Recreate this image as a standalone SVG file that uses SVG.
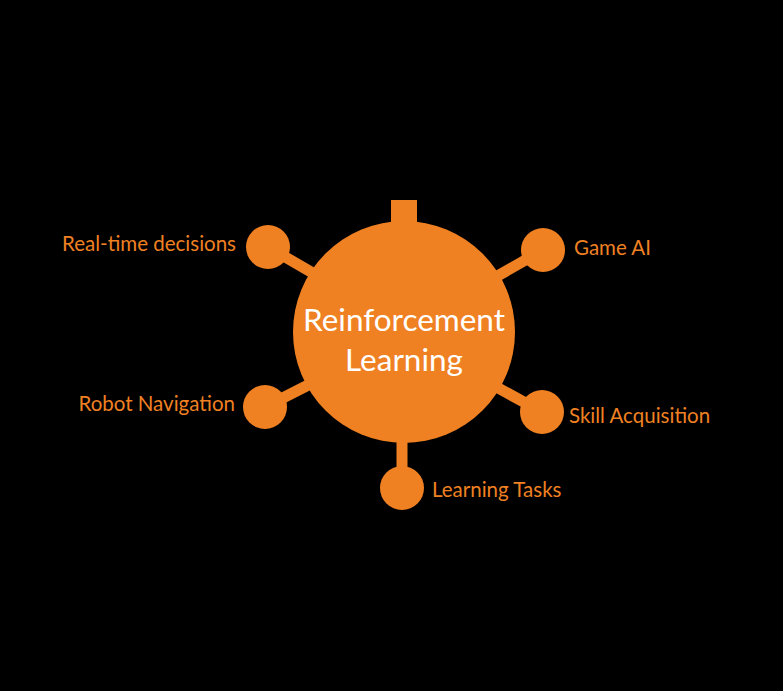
<svg xmlns="http://www.w3.org/2000/svg" width="783" height="691" viewBox="0 0 783 691">
<style>
.o{fill:#F08122}
.ln{stroke:#F08122;stroke-width:11;stroke-linecap:butt}
.lbl{font-family:Lato,"Open Sans",sans-serif;font-size:20.5px;fill:#F08122}
.ctr{font-family:Lato,"Open Sans",sans-serif;font-size:31.5px;fill:#FFFFFF;text-anchor:middle}
</style>
<rect width="783" height="691" fill="#000000"/>
<g id="connectors">
<line class="ln" x1="268" y1="247" x2="330" y2="283"/>
<line class="ln" x1="543" y1="250" x2="480" y2="286"/>
<line class="ln" x1="265" y1="407" x2="328" y2="375"/>
<line class="ln" x1="542" y1="412" x2="480" y2="378"/>
<line class="ln" x1="402" y1="488" x2="402" y2="430"/>
</g>
<g id="center">
<rect class="o" x="391" y="200" width="26" height="30"/>
<circle class="o" cx="404" cy="332" r="111"/>
<text class="ctr" x="404" y="331">Reinforcement</text>
<text class="ctr" x="404" y="371">Learning</text>
</g>
<g id="node-realtime">
<circle class="o" cx="268" cy="247" r="22"/>
<text class="lbl" x="236" y="251" text-anchor="end">Real-time decisions</text>
</g>
<g id="node-gameai">
<circle class="o" cx="543" cy="250" r="22"/>
<text class="lbl" x="574" y="255">Game AI</text>
</g>
<g id="node-robot">
<circle class="o" cx="265" cy="407" r="22"/>
<text class="lbl" x="235" y="411" text-anchor="end">Robot Navigation</text>
</g>
<g id="node-skill">
<circle class="o" cx="542" cy="412" r="22"/>
<text class="lbl" x="569" y="423">Skill Acquisition</text>
</g>
<g id="node-tasks">
<circle class="o" cx="402" cy="488" r="22"/>
<text class="lbl" x="432" y="497">Learning Tasks</text>
</g>
</svg>
